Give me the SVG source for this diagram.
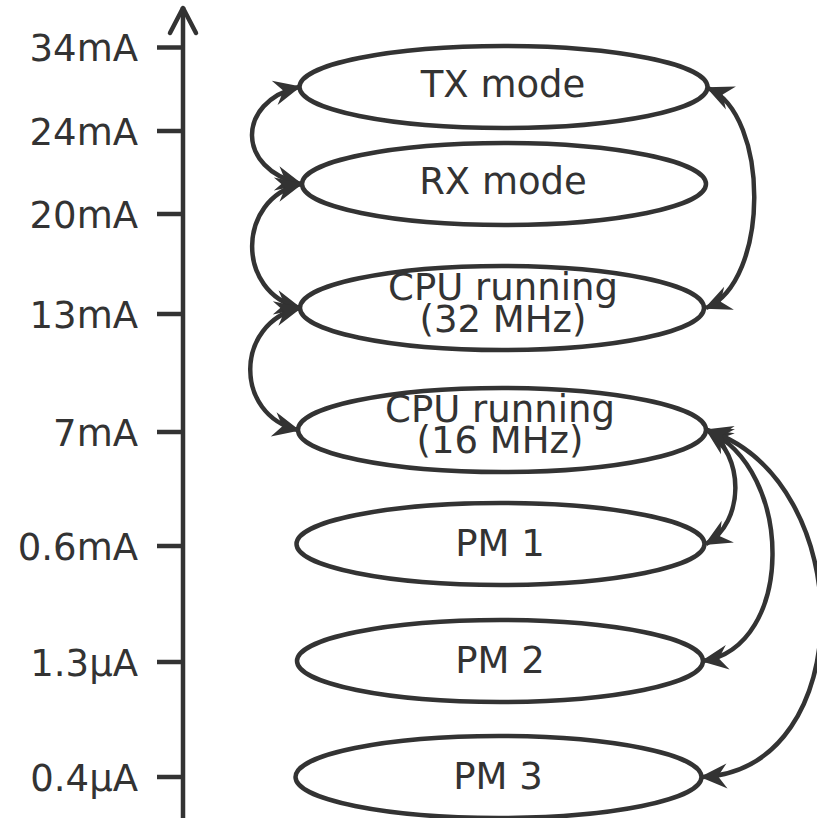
<svg xmlns="http://www.w3.org/2000/svg" width="817" height="818" viewBox="0 0 817 818">
<style>
.ax{stroke:#333;stroke-width:4.5;fill:none}
.nd{fill:none;stroke:#333;stroke-width:4.5}
.t{font-family:"DejaVu Sans",Verdana,sans-serif;font-size:37px;fill:#333}
.lb{text-anchor:end}
.c{text-anchor:middle}
.cn{fill:none;stroke:#333;stroke-width:4.5;marker-start:url(#ah);marker-end:url(#ah)}
</style>
<defs>
<marker id="ah" markerUnits="userSpaceOnUse" markerWidth="40" markerHeight="40" refX="0" refY="0" orient="auto-start-reverse" overflow="visible">
<path d="M2,0 L-25,-12.5 L-16,0 L-25,12.5 Z" fill="#333"/>
</marker>
</defs>
<g id="axis">
<line class="ax" x1="183" y1="7" x2="183" y2="818"/>
<polyline class="ax" points="170,33 183,8 196,33" stroke-linecap="round" stroke-linejoin="round"/>
<line class="ax" x1="157" y1="47.5" x2="183" y2="47.5"/>
<line class="ax" x1="157" y1="131" x2="183" y2="131"/>
<line class="ax" x1="157" y1="214" x2="183" y2="214"/>
<line class="ax" x1="157" y1="314" x2="183" y2="314"/>
<line class="ax" x1="157" y1="432" x2="183" y2="432"/>
<line class="ax" x1="157" y1="546" x2="183" y2="546"/>
<line class="ax" x1="157" y1="662" x2="183" y2="662"/>
<line class="ax" x1="157" y1="777" x2="183" y2="777"/>
<text class="t lb" x="138" y="61">34mA</text>
<text class="t lb" x="138" y="145">24mA</text>
<text class="t lb" x="138" y="228">20mA</text>
<text class="t lb" x="138" y="328">13mA</text>
<text class="t lb" x="138" y="446">7mA</text>
<text class="t lb" x="138" y="560">0.6mA</text>
<text class="t lb" x="138" y="676">1.3µA</text>
<text class="t lb" x="138" y="791">0.4µA</text>
</g>
<g id="tx"><ellipse class="nd" cx="503.5" cy="87" rx="204" ry="41"/><text class="t c" x="503" y="97">TX mode</text></g>
<g id="rx"><ellipse class="nd" cx="504" cy="184" rx="202" ry="41"/><text class="t c" x="503" y="194">RX mode</text></g>
<g id="cpu32"><ellipse class="nd" cx="502" cy="308" rx="202" ry="42"/><text class="t c" x="503" y="300">CPU running</text><text class="t c" x="503" y="332">(32 MHz)</text></g>
<g id="cpu16"><ellipse class="nd" cx="502" cy="430" rx="204" ry="42"/><text class="t c" x="500" y="422">CPU running</text><text class="t c" x="500" y="453">(16 MHz)</text></g>
<g id="pm1"><ellipse class="nd" cx="500.5" cy="544" rx="204" ry="41"/><text class="t c" x="500" y="556">PM 1</text></g>
<g id="pm2"><ellipse class="nd" cx="500" cy="661" rx="203" ry="41"/><text class="t c" x="500" y="673">PM 2</text></g>
<g id="pm3"><ellipse class="nd" cx="498.5" cy="777" rx="203" ry="41"/><text class="t c" x="498" y="789">PM 3</text></g>
<g id="connectors">
<path class="cn" d="M299,87 C236,102 236,169 301,184"/>
<path class="cn" d="M301,184 C236,199 236,293 300,308"/>
<path class="cn" d="M300,308 C234,323 234,415 298,430"/>
<path class="cn" d="M708,88 C770,115 770,281 706,308"/>
<path class="cn" d="M707,430 C745,455 745,522 706,544"/>
<path class="cn" d="M707,430 C795,470 795,647 703,661"/>
<path class="cn" d="M707,430 C860,480 860,770 702,777"/>
</g>
</svg>
